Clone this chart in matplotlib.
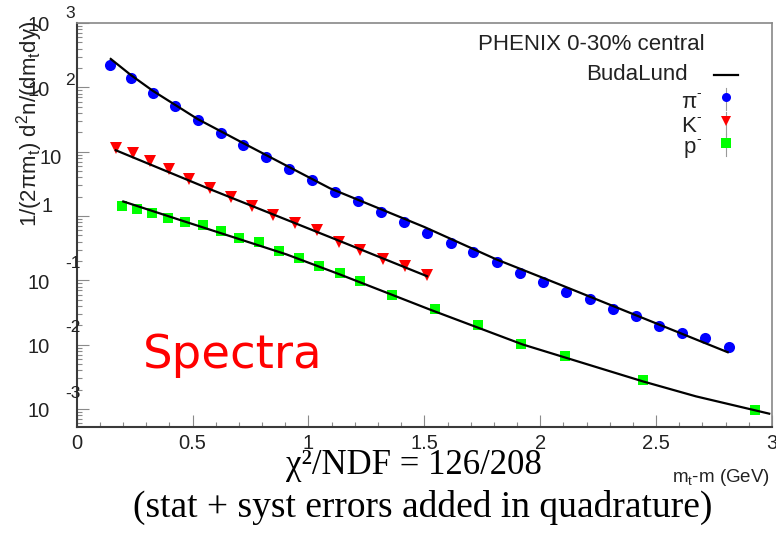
import matplotlib
matplotlib.use("Agg")
import matplotlib.pyplot as plt
from matplotlib.ticker import MultipleLocator, LogLocator, NullFormatter

plt.rcParams['font.family'] = ['Liberation Sans', 'DejaVu Sans']
plt.rcParams['mathtext.fontset'] = 'custom'
plt.rcParams['mathtext.rm'] = 'Liberation Sans'
plt.rcParams['mathtext.it'] = 'Liberation Sans:italic'

# pi- spectrum (mt-m in GeV, invariant yield)
pi_mt = [0.144, 0.234, 0.328, 0.425, 0.522, 0.622, 0.718, 0.817, 0.916, 1.016,
         1.115, 1.214, 1.315, 1.414, 1.513, 1.613, 1.712, 1.815, 1.912, 2.012,
         2.112, 2.213, 2.312, 2.414, 2.513, 2.613, 2.713, 2.813]
pi_y = [225, 138, 82.4, 51.2, 31.3, 19.4, 12.8, 8.30, 5.47, 3.69,
        2.37, 1.71, 1.15, 0.807, 0.543, 0.376, 0.272, 0.195, 0.129, 0.0948,
        0.0664, 0.0504, 0.0352, 0.0277, 0.0198, 0.0153, 0.0125, 0.00933]

# K- spectrum
k_mt = [0.169, 0.241, 0.317, 0.399, 0.485, 0.575, 0.664, 0.757, 0.847, 0.941,
        1.038, 1.131, 1.224, 1.322, 1.418, 1.511]
k_y = [11.3, 9.37, 7.03, 5.28, 3.77, 2.70, 1.98, 1.43, 1.04, 0.789,
       0.599, 0.394, 0.292, 0.212, 0.166, 0.122]

# anti-proton spectrum
p_mt = [0.197, 0.259, 0.323, 0.392, 0.467, 0.543, 0.621, 0.701, 0.787, 0.871,
        0.958, 1.046, 1.134, 1.222, 1.359, 1.544, 1.731, 1.919, 2.108, 2.442,
        2.925]
p_y = [1.43, 1.27, 1.10, 0.944, 0.806, 0.716, 0.584, 0.454, 0.399, 0.285,
       0.225, 0.166, 0.131, 0.0986, 0.0597, 0.0352, 0.0203, 0.0103, 0.00659,
       0.00286, 0.000951]

# BudaLund fit curves
fit_pi_mt = [0.147, 0.234, 0.328, 0.522, 0.718, 1.092, 1.50, 1.810, 2.083, 2.809]
fit_pi_y = [276, 155, 88.5, 32.1, 13.6, 2.70, 0.674, 0.212, 0.0863, 0.00762]
fit_k_mt = [0.169, 0.575, 1.135, 1.511]
fit_k_y = [10.5, 2.61, 0.408, 0.116]
fit_p_mt = [0.201, 0.459, 0.704, 0.905, 1.135, 1.523, 1.925, 2.442, 2.672, 2.988]
fit_p_y = [1.68, 0.836, 0.434, 0.253, 0.1236, 0.0352, 0.01004, 0.00269,
           0.00157, 0.000845]

# y tick labels, ROOT style: base and exponent drawn separately
ytick_vals = [1e3, 1e2, 1e1, 1, 1e-1, 1e-2, 1e-3]
ytick_base = ["10", "10", "10", "1", "10", "10", "10"]
ytick_exp = ["3", "2", "", "", "-1", "-2", "-3"]
xtick_vals = [0, 0.5, 1, 1.5, 2, 2.5, 3]
xtick_text = ["0", "0.5", "1", "1.5", "2", "2.5", "3"]

W, H = 776, 534
TXT = '#222222'


def fx(px):
    return px / W


def fy(py):
    return 1 - py / H


fig = plt.figure(figsize=(W / 100, H / 100), dpi=100)
ax = fig.add_axes([fx(76.7), fy(426.7), (772 - 76.7) / W, (426.7 - 23) / H])
ax.set_yscale('log')
ax.set_xlim(0, 3)
ax.set_ylim(5.3e-4, 1e3)

ax.plot(pi_mt, pi_y, 'o', color='#0000ff', ms=8, mew=0, zorder=2)
ax.plot(k_mt, k_y, 'v', color='#ff0000', ms=9, mew=0, zorder=2)
ax.plot(p_mt, p_y, 's', color='#00ff00', ms=7.5, mew=0, zorder=2)
for xs, ys in [(fit_pi_mt, fit_pi_y), (fit_k_mt, fit_k_y), (fit_p_mt, fit_p_y)]:
    ax.plot(xs, ys, '-', color='black', lw=1.6, zorder=3)

for s in ax.spines.values():
    s.set_color('#3a3a3a')
    s.set_linewidth(1.5)
ax.spines['top'].set_color('#888888')
ax.spines['right'].set_color('#888888')
ax.spines['top'].set_linewidth(1.2)
ax.spines['right'].set_linewidth(1.2)

ax.xaxis.set_minor_locator(MultipleLocator(0.1))
ax.set_xticks(xtick_vals)
ax.set_xticklabels(xtick_text)
ax.yaxis.set_major_locator(LogLocator(base=10, numticks=20))
ax.yaxis.set_minor_locator(LogLocator(base=10, subs=range(2, 10), numticks=20))
ax.yaxis.set_major_formatter(NullFormatter())
ax.yaxis.set_minor_formatter(NullFormatter())
ax.tick_params(which='both', direction='in', color='#8a8a8a', width=0.8,
               top=False, right=False)
ax.tick_params(which='major', length=8.5)
ax.tick_params(which='minor', length=3.6)
ax.tick_params(axis='x', labelsize=14.5, pad=5, labelcolor=TXT)

# y tick labels
exp_dy = {"3": 9, "2": 7, "-1": 17, "-2": 17, "-3": 15}
for val, base, ex in zip(ytick_vals, ytick_base, ytick_exp):
    if ex:
        ax.annotate(base, xy=(50, val), xycoords=('figure pixels', 'data'),
                    xytext=(0, -3), textcoords='offset pixels',
                    ha='right', va='center', fontsize=14.5, color=TXT)
        ax.annotate(ex, xy=(65, val), xycoords=('figure pixels', 'data'),
                    xytext=(0, exp_dy[ex]), textcoords='offset pixels',
                    ha='left', va='center', fontsize=12.5, color=TXT)
    else:
        rx = 62 if base == "10" else 53
        dy = -7 if base == "10" else 9
        ax.annotate(base, xy=(rx, val), xycoords=('figure pixels', 'data'),
                    xytext=(0, dy), textcoords='offset pixels',
                    ha='right', va='center', fontsize=14.5, color=TXT)

# axis titles
fig.text(fx(30), fy(21), r'$\mathregular{1/(2π m_t)\ d^2n/(dm_t dy)}$',
         rotation=90, ha='center', va='top', fontsize=16, color=TXT)
fig.text(fx(770), fy(478), r'$\mathregular{m_t}$-m (GeV)', ha='right',
         va='center', fontsize=13.5, color=TXT)

# legend
fig.text(fx(705), fy(45), 'PHENIX 0-30% central', ha='right', va='center',
         fontsize=16, color=TXT)
fig.text(fx(688), fy(75), 'BudaLund', ha='right', va='center',
         fontsize=16, color=TXT)
ax.plot([fx(714), fx(738)], [fy(75), fy(75)], '-', color='black', lw=1.6,
        transform=fig.transFigure, clip_on=False)
leg = [('π', 'o', '#0000ff', 99),
       ('K', 'v', '#ff0000', 123),
       ('p', 's', '#00ff00', 145)]
for lab, mk, col, py in leg:
    fig.text(fx(696), fy(py + 3), lab, ha='right', va='center', fontsize=16,
             color=TXT)
    fig.text(fx(696), fy(py - 6), '-', ha='left', va='center', fontsize=10,
             color=TXT)
    ax.plot([fx(726), fx(726)], [fy(py - 11), fy(py + 11)], '-',
            color='#9a9a9a', lw=0.8, transform=fig.transFigure, clip_on=False)
    ax.plot([fx(726)], [fy(py - 2)], mk, color=col, ms=6.5, mew=0,
            transform=fig.transFigure, clip_on=False)

fig.text(fx(143), fy(368), 'Spectra', family='DejaVu Sans', fontsize=33.5,
         color='#ff0000', ha='left', va='baseline')
fig.text(fx(414), fy(466), 'χ²/NDF = 126/208', family='Liberation Serif',
         fontsize=25, ha='center', va='center', color='black')
fig.text(fx(423), fy(507), '(stat + syst errors added in quadrature)',
         family='Liberation Serif', fontsize=27, ha='center', va='center',
         color='black')

fig.savefig('out.png', dpi=100)
